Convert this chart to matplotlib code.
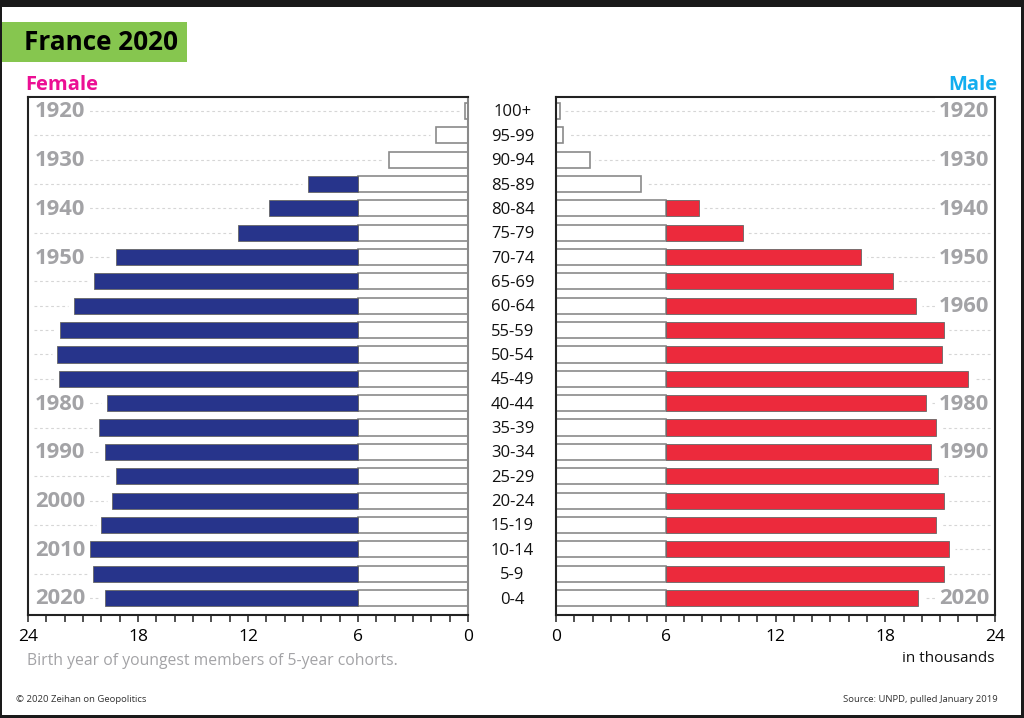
import matplotlib
matplotlib.use("Agg")
import matplotlib.pyplot as plt
from matplotlib.patches import Rectangle

plt.rcParams['font.family'] = ['Open Sans', 'DejaVu Sans']

W, H = 1024, 718

age_groups = ["100+", "95-99", "90-94", "85-89", "80-84", "75-79", "70-74",
              "65-69", "60-64", "55-59", "50-54", "45-49", "40-44", "35-39",
              "30-34", "25-29", "20-24", "15-19", "10-14", "5-9", "0-4"]

female = [0.15, 1.75, 4.3, 8.75, 10.85, 12.55, 19.2, 20.4, 21.5, 22.25, 22.4,
          22.3, 19.7, 20.15, 19.8, 19.2, 19.4, 20.0, 20.6, 20.45, 19.8]
male = [0.2, 0.4, 1.85, 4.65, 7.8, 10.2, 16.7, 18.4, 19.7, 21.2, 21.1,
        22.55, 20.25, 20.75, 20.5, 20.9, 21.2, 20.75, 21.5, 21.2, 19.8]

# row index -> birth year label
female_years = {0: "1920", 2: "1930", 4: "1940", 6: "1950", 12: "1980",
                14: "1990", 16: "2000", 18: "2010", 20: "2020"}
male_years = {0: "1920", 2: "1930", 4: "1940", 6: "1950", 8: "1960",
              12: "1980", 14: "1990", 20: "2020"}

major_ticks = [0, 6, 12, 18, 24]
minor_ticks = list(range(25))

BLUE = "#27348b"
RED = "#ec2a3c"
EDGE = "#8a8a8a"
YEAR_GREY = "#a3a3a6"


def px_axes(fig, left, top, right, bottom, **kwargs):
    # axes placed with pixel coordinates, y measured from the top
    return fig.add_axes([left / W, 1 - bottom / H, (right - left) / W, (bottom - top) / H], **kwargs)


def draw_side(ax, values, years, color, year_x):
    rows = list(range(len(values)))
    for r in rows:
        # dotted guide stops just short of the frame and the bar
        ax.plot([23.7, values[r] + 0.3], [r, r], color="#d6d6d6", lw=0.8,
                ls=(0, (2.5, 2.5)), zorder=1)

    # white part goes up to 6, coloured part carries on from there
    ax.barh(rows, [min(v, 6) for v in values], height=0.66, color="white",
            edgecolor=EDGE, linewidth=1.2, zorder=2)
    rest = [max(v - 6, 0) for v in values]
    big = [r for r in rows if rest[r] > 0]
    ax.barh(big, [rest[r] for r in big], left=6, height=0.66, color=color,
            edgecolor="#666666", linewidth=0.6, zorder=3)

    for r, label in years.items():
        ax.text(year_x, r + 0.04, label, ha="center", va="center", color=YEAR_GREY,
                fontsize=15.8, fontweight="bold", zorder=4,
                bbox=dict(facecolor="white", edgecolor="none", pad=2.5))

    ax.set_ylim(20.7, -0.575)
    ax.set_yticks([])
    ax.set_xticks(major_ticks)
    ax.set_xticks(minor_ticks, minor=True)
    ax.tick_params(axis="x", which="both", length=5, width=1.1, color="#222222", pad=5, labelsize=12.5)
    for s in ax.spines.values():
        s.set_color("#222222")
        s.set_linewidth(1.5)


fig = plt.figure(figsize=(W / 100, H / 100), dpi=100, facecolor="#1a1a1a")

# white sheet inside the dark screenshot border, under the axes
fig.add_artist(Rectangle((1.5 / W, 1 - 715 / H), 1019.5 / W, 708 / H, transform=fig.transFigure,
                         facecolor="white", edgecolor="none", zorder=-2))
fig.add_artist(Rectangle((1.5 / W, 1 - 62 / H), 185.5 / W, 40 / H, transform=fig.transFigure,
                         facecolor="#86c64f", edgecolor="none", zorder=-1))

ax_f = px_axes(fig, 28, 97, 468, 615)
ax_f.set_xlim(24, 0)
draw_side(ax_f, female, female_years, BLUE, 22.25)
ax_f.spines["right"].set_color(EDGE)

ax_m = px_axes(fig, 556, 97, 995, 615)
ax_m.set_xlim(0, 24)
draw_side(ax_m, male, male_years, RED, 22.3)

for r, label in enumerate(age_groups):
    y = 112.5 + r * 24.35
    fig.text(512.5 / W, 1 - y / H, label, ha="center", va="center", fontsize=12, color="#111111")


def label_px(x, y, s, **kwargs):
    fig.text(x / W, 1 - y / H, s, va="center", **kwargs)


label_px(24, 43, "France 2020", fontsize=18.8, fontweight="bold", color="black")
label_px(25, 85, "Female", fontsize=14.5, fontweight="bold", color="#ec0f94")
label_px(997, 85, "Male", fontsize=14.5, fontweight="bold", color="#12aeef", ha="right")
label_px(27, 661, "Birth year of youngest members of 5-year cohorts.", fontsize=11.3, color="#a3a3a6")
label_px(995, 659, "in thousands", fontsize=11, color="#111111", ha="right")
label_px(16, 700, "© 2020 Zeihan on Geopolitics", fontsize=6.8, color="#333333")
label_px(998, 700, "Source: UNPD, pulled January 2019", fontsize=6.8, color="#333333", ha="right")

fig.savefig("out.png", dpi=100, facecolor=fig.get_facecolor())
